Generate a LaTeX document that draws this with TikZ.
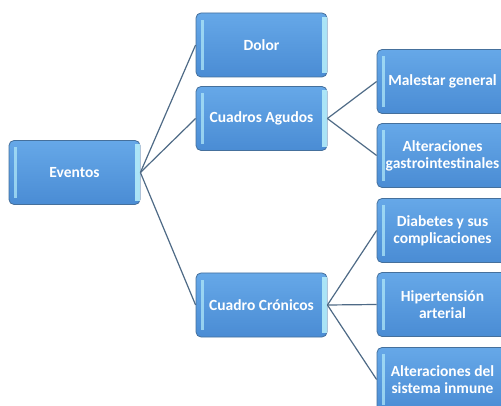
\documentclass[tikz,border=0pt]{standalone}
\usepackage{fontspec}
\setmainfont{Carlito}
\definecolor{boxtop}{HTML}{66A8E8}
\definecolor{boxbot}{HTML}{4A8CD4}
\definecolor{boxborder}{HTML}{45709C}
\definecolor{stripcol}{HTML}{B4ECFA}
\definecolor{linecol}{HTML}{4E6A86}
\tikzset{
  box/.style={rectangle, rounded corners=5pt, minimum width=131pt, minimum height=64pt,
    draw=boxborder, line width=0.8pt, top color=boxtop, bottom color=boxbot,
    text=white, align=center, inner sep=1pt,
    font=\bfseries\fontsize{15.5}{17}\selectfont},
  lstrip/.style={fill=stripcol, opacity=0.7, draw=none},
  rstrip/.style={fill=stripcol, opacity=0.9, draw=none},
  conn/.style={draw=linecol, line width=1.2pt}
}
\begin{document}
\begin{tikzpicture}[x=1pt,y=-1pt]
\useasboundingbox (0,0) rectangle (501,406);
\node[box] (ev) at (74.5,172.5) {Eventos};
\node[box] (dol) at (261.5,45) {Dolor};
\node[box] (agu) at (261.5,118.5) {Cuadros Agudos};
\node[box] (cro) at (261.5,305) {Cuadro Crónicos};
\node[box] (mal) at (442.5,81.5) {Malestar general};
\node[box] (gas) at (442.5,155.5) {Alteraciones\\gastrointestinales};
\node[box] (dia) at (442.5,230.5) {Diabetes y sus\\complicaciones};
\node[box] (hip) at (442.5,304.5) {Hipertensión\\arterial};
\node[box] (inm) at (442.5,379.5) {Alteraciones del\\sistema inmune};
\foreach \n in {ev,dol,agu,cro,mal,gas,dia,hip,inm}{
  \fill[lstrip] ([xshift=5pt,yshift=-7pt]\n.north west) rectangle ([xshift=8pt,yshift=7pt]\n.south west);
  \fill[rstrip] ([xshift=-5pt,yshift=-4pt]\n.north east) rectangle ([xshift=-0.5pt,yshift=4pt]\n.south east);
}
\draw[conn] (ev.east) -- (dol.west);
\draw[conn] (ev.east) -- (agu.west);
\draw[conn] (ev.east) -- (cro.west);
\draw[conn] (agu.east) -- (mal.west);
\draw[conn] (agu.east) -- (gas.west);
\draw[conn] (cro.east) -- (dia.west);
\draw[conn] (cro.east) -- (hip.west);
\draw[conn] (cro.east) -- (inm.west);
\end{tikzpicture}
\end{document}
